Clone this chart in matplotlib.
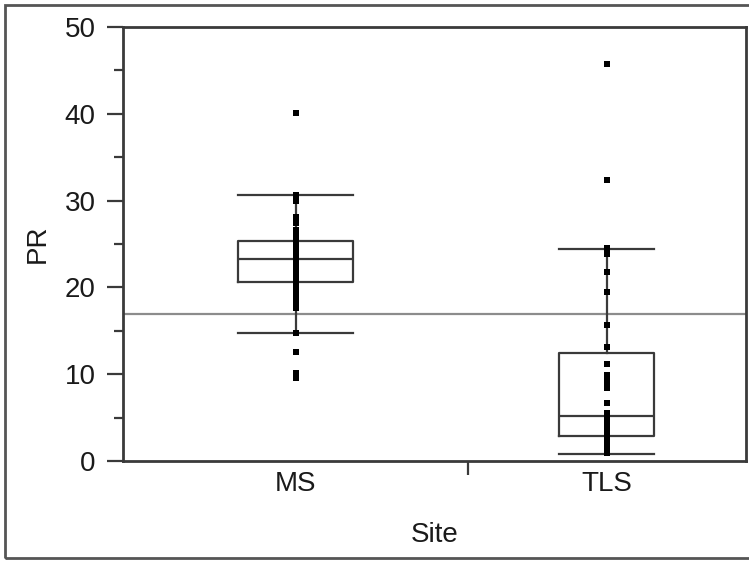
import matplotlib.pyplot as plt
from matplotlib.patches import Rectangle

plt.rcParams['font.family'] = ['Liberation Sans', 'DejaVu Sans']

sites = ["MS", "TLS"]

# box statistics
q1 = [20.6, 2.9]
med = [23.3, 5.2]
q3 = [25.3, 12.4]
whislo = [14.7, 0.8]
whishi = [30.6, 24.4]
box_w = [0.37, 0.305]

ms_pts = [40.1, 30.6, 29.9, 28.1, 27.8, 27.4, 26.6, 26.2, 25.9, 25.6, 25.3, 25.0,
          24.6, 24.2, 23.9, 23.5, 23.2, 22.8, 22.5, 22.1, 21.8, 21.4, 21.0, 20.6,
          20.2, 19.8, 19.4, 19.0, 18.6, 18.3, 17.6, 14.7, 12.6, 10.1, 9.6]
tls_pts = [45.7, 32.4, 24.5, 24.2, 23.9, 21.8, 19.5, 15.7, 13.2, 11.2, 9.9, 9.5,
           9.0, 8.6, 8.4, 6.7, 5.5, 5.1, 4.4, 4.0, 3.6, 3.2, 2.8, 2.1, 1.7, 1.3, 0.9]
ref_line = 16.9

fig = plt.figure(figsize=(7.49, 5.61), dpi=100)
ax = fig.add_axes([0.164, 0.178, 0.832, 0.774])

stats = []
for i in range(2):
    stats.append(dict(med=med[i], q1=q1[i], q3=q3[i], whislo=whislo[i], whishi=whishi[i], fliers=[]))

dark = '#3a3a3a'
for i in range(2):
    ax.bxp([stats[i]], positions=[i + 1], widths=box_w[i], capwidths=box_w[i],
           showfliers=False, manage_ticks=False,
           boxprops=dict(color=dark, linewidth=1.6),
           medianprops=dict(color=dark, linewidth=1.6),
           whiskerprops=dict(color=dark, linewidth=1.6),
           capprops=dict(color=dark, linewidth=1.6))

ax.plot([1] * len(ms_pts), ms_pts, 's', color='black', ms=3.8, mew=0, zorder=5)
ax.plot([2] * len(tls_pts), tls_pts, 's', color='black', ms=3.8, mew=0, zorder=5)

ax.axhline(ref_line, color='#8c8c8c', linewidth=1.6, zorder=1)

fs = 20
ax.set_xlim(0.444, 2.447)
ax.set_ylim(0, 50)
ax.set_yticks([0, 10, 20, 30, 40, 50])
ax.set_yticks([5, 15, 25, 35, 45], minor=True)
ax.set_xticks([1, 2])
ax.set_xticklabels(sites)
ax.set_xticks([1.553], minor=True)
ax.tick_params(axis='x', which='major', length=0, pad=7, labelsize=fs, colors='#1a1a1a')
ax.tick_params(axis='x', which='minor', length=10, width=1.6, color=dark)
ax.tick_params(axis='y', which='major', length=11.5, width=1.6, pad=8, labelsize=fs,
               color=dark, labelcolor='#1a1a1a')
ax.tick_params(axis='y', which='minor', length=6.5, width=1.6, color=dark)

for s in ax.spines.values():
    s.set_linewidth(2)
    s.set_color(dark)

ax.set_ylabel("PR", fontsize=fs, labelpad=10, color='#1a1a1a')
ax.set_xlabel("Site", fontsize=fs, labelpad=18, color='#1a1a1a')

fig.patches.append(Rectangle((5 / 749, 3 / 561), 1.0, 553 / 561, transform=fig.transFigure,
                             fill=False, edgecolor='#555555', linewidth=2))

fig.savefig("out.png", dpi=100)
